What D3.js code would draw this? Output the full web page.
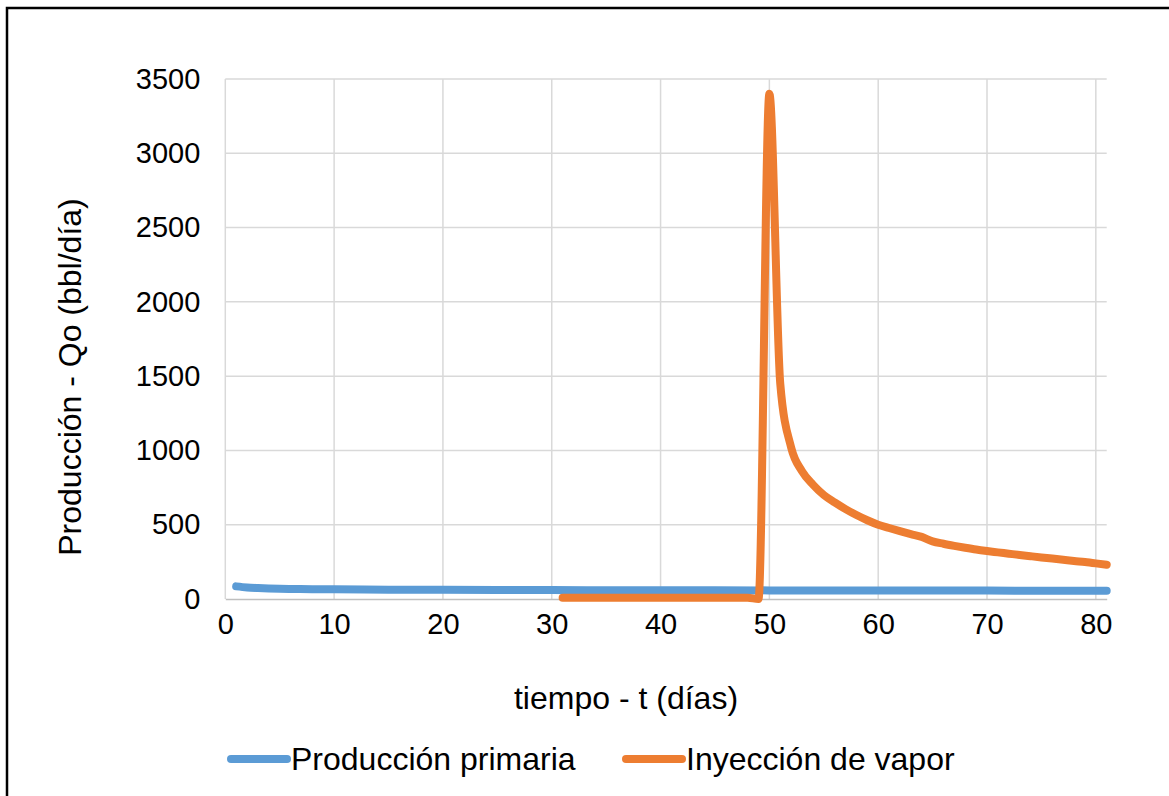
<!DOCTYPE html>
<html>
<head>
<meta charset="utf-8">
<script src="https://cdn.jsdelivr.net/npm/d3@7"></script>
<style>
  body { margin: 0; background: #fff; }
  svg { display: block; font-family: Arial, "Liberation Sans", sans-serif; }
</style>
</head>
<body>
<div id="chart"></div>
<script>
// Producción primaria (día, bbl/día)
const primDays = [1, 2, 3, 4, 5, 6, 8, 10, 15, 20, 25, 30, 35, 40, 45, 50, 55, 60, 65, 70, 75, 81]
const primVals = [85, 78, 74, 71, 69, 68, 66, 65, 63, 62, 61, 60, 59.5, 59, 58.5, 58, 57.5, 57, 57, 56.5, 56, 56]

// Inyección de vapor (día, bbl/día)
const vapDays = [31, 35, 40, 45, 48, 49, 50, 51, 52, 53, 54, 55, 56, 57, 58, 59, 60, 61, 62, 63, 64, 65,
                 66, 67, 68, 69, 70, 71, 72, 73, 74, 75, 76, 77, 78, 79, 80, 81]
const vapVals = [8, 8, 8, 8, 8, 0, 3400, 1450, 1020, 860, 770, 700, 650, 605, 565, 530, 500, 478, 457, 437, 418, 388,
                 372, 358, 345, 333, 323, 314, 305, 296, 288, 280, 272, 264, 256, 249, 240, 230]

const xTicks = [0, 10, 20, 30, 40, 50, 60, 70, 80]
const yTicks = [0, 500, 1000, 1500, 2000, 2500, 3000, 3500]

const seriesNames = ['Producción primaria', 'Inyección de vapor']
const seriesColors = ['#5B9BD5', '#ED7D31']

const createChart = () => {
    const width = 1169
    const height = 796
    const left = 225.3
    const right = 1106.7
    const top = 79
    const bottom = 599

    const xScale = d3.scaleLinear().domain([0, 81]).range([left, right])
    const yScale = d3.scaleLinear().domain([0, 3500]).range([bottom, top])

    const svg = d3.select('#chart')
        .append('svg')
        .attr('width', width)
        .attr('height', height)

    // frame
    svg.append('rect')
        .attr('x', 7).attr('y', 8)
        .attr('width', 1200).attr('height', 900)
        .attr('fill', 'none')
        .attr('stroke', '#000')
        .attr('stroke-width', 2.5)

    // gridlines
    svg.append('g')
        .selectAll('line')
        .data(yTicks.slice(1))
        .enter()
        .append('line')
        .attr('x1', left).attr('x2', right)
        .attr('y1', (d) => yScale(d)).attr('y2', (d) => yScale(d))
        .attr('stroke', '#d9d9d9')
        .attr('stroke-width', 1.5)
    svg.append('g')
        .selectAll('line')
        .data(xTicks)
        .enter()
        .append('line')
        .attr('x1', (d) => xScale(d)).attr('x2', (d) => xScale(d))
        .attr('y1', top).attr('y2', bottom)
        .attr('stroke', '#d9d9d9')
        .attr('stroke-width', 1.5)

    // x axis
    const xAxis = d3.axisBottom(xScale).tickValues(xTicks).tickSize(0).tickPadding(14).tickFormat(d3.format('d'))
    const gx = svg.append('g')
        .attr('transform', `translate(0, ${bottom})`)
        .call(xAxis)
    gx.select('.domain').attr('stroke', '#bfbfbf').attr('stroke-width', 1.5)
    gx.selectAll('text').attr('font-size', 29).attr('fill', '#000').attr('font-family', 'Arial, "Liberation Sans", sans-serif')

    // y axis
    const yAxis = d3.axisLeft(yScale).tickValues(yTicks).tickSize(0).tickPadding(25).tickFormat(d3.format('d'))
    const gy = svg.append('g')
        .attr('transform', `translate(${left}, 0)`)
        .call(yAxis)
    gy.select('.domain').remove()
    gy.selectAll('text').attr('font-size', 29).attr('fill', '#000').attr('font-family', 'Arial, "Liberation Sans", sans-serif')

    // series
    const line = d3.line()
        .x((d) => xScale(d[0]))
        .y((d) => yScale(d[1]))
        .curve(d3.curveMonotoneX)

    const series = [
        d3.zip(primDays, primVals),
        d3.zip(vapDays, vapVals)
    ]

    svg.append('g')
        .selectAll('path')
        .data(series)
        .enter()
        .append('path')
        .attr('d', line)
        .attr('fill', 'none')
        .attr('stroke', (d, i) => seriesColors[i])
        .attr('stroke-width', 8)
        .attr('stroke-linecap', 'round')
        .attr('stroke-linejoin', 'round')

    // axis titles
    svg.append('text')
        .attr('x', 626).attr('y', 709)
        .attr('text-anchor', 'middle')
        .attr('font-size', 32)
        .text('tiempo - t (días)')
    svg.append('text')
        .attr('transform', 'translate(81, 377) rotate(-90)')
        .attr('text-anchor', 'middle')
        .attr('font-size', 32)
        .text('Producción - Qo (bbl/día)')

    // legend
    const legendX = [231, 626]
    const legend = svg.append('g')
        .selectAll('g')
        .data(seriesNames)
        .enter()
        .append('g')
        .attr('transform', (d, i) => `translate(${legendX[i]}, 759)`)
    legend.append('line')
        .attr('x1', 0).attr('x2', 56)
        .attr('stroke', (d, i) => seriesColors[i])
        .attr('stroke-width', 8)
        .attr('stroke-linecap', 'round')
    legend.append('text')
        .attr('x', 60).attr('y', 11)
        .attr('font-size', 32)
        .text((d) => d)
}

createChart()
</script>
</body>
</html>
